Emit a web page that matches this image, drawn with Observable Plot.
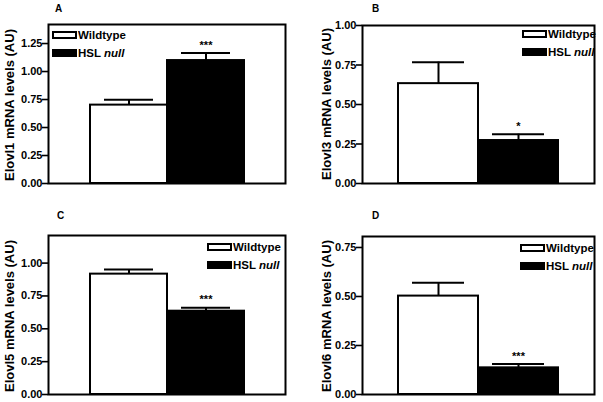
<!DOCTYPE html>
<html>
<head>
<meta charset="utf-8">
<script src="https://cdn.jsdelivr.net/npm/d3@7"></script>
<script src="https://cdn.jsdelivr.net/npm/@observablehq/plot@0.6"></script>
<style>
  html, body { margin: 0; padding: 0; background: #fff; }
  #root { position: relative; width: 603px; height: 402px; background: #fff; font-family: "Liberation Sans", Arial, sans-serif; font-weight: bold; }
  .panel { position: absolute; }
  .letter { position: absolute; font-size: 10px; font-weight: bold; }
  .ytitle { position: absolute; white-space: nowrap; font-size: 13px; font-weight: bold; transform: translate(-50%, -50%) rotate(-90deg); }
  .legend { position: absolute; display: flex; flex-direction: column; gap: 10px; font-size: 11.5px; font-weight: bold; }
  .legend .row { display: flex; align-items: center; height: 8px; }
  .legend .box { box-sizing: border-box; width: 25px; height: 8px; border: 2px solid #000; margin-right: 1px; }
</style>
</head>
<body>
<div id="root"></div>
<script>
// ---- data ----
const panelLetters = ["A", "B", "C", "D"];
const genes = ["Elovl1", "Elovl3", "Elovl5", "Elovl6"];
const groups = ["Wildtype", "HSL null"];
const wildtypeMean = [0.70, 0.632, 0.916, 0.502];
const wildtypeErr  = [0.047, 0.136, 0.036, 0.068];
const nullMean     = [1.098, 0.272, 0.634, 0.136];
const nullErr      = [0.067, 0.040, 0.027, 0.019];
const significance = ["***", "*", "***", "***"];
const yMax   = [1.42, 1.0, 1.21, 0.806];
const yTicks = [
  [0, 0.25, 0.5, 0.75, 1.0, 1.25],
  [0, 0.25, 0.5, 0.75, 1.0],
  [0, 0.25, 0.5, 0.75, 1.0],
  [0, 0.25, 0.5, 0.75]
];

// ---- layout ----
const layout = [
  {left: 0,   top: 0,   width: 300, height: 200, mL: 48, mR: 15, mT: 24, mB: 17, po: 0.52, title: [9, 105],    letter: [55, 3],   legend: [52, 31]},
  {left: 300, top: 0,   width: 303, height: 200, mL: 62, mR: 9,  mT: 25, mB: 17, po: 0.45, title: [325.5, 104], letter: [372, 3],  legend: [522, 30]},
  {left: 0,   top: 200, width: 300, height: 202, mL: 48, mR: 15, mT: 35, mB: 8,  po: 0.52, title: [9, 316],    letter: [57, 210], legend: [207, 243]},
  {left: 300, top: 200, width: 303, height: 202, mL: 62, mR: 9,  mT: 36, mB: 8,  po: 0.45, title: [325.5, 316], letter: [372, 210], legend: [520, 244]}
];

const root = document.getElementById("root");

panelLetters.forEach((letter, i) => {
  const L = layout[i];
  const data = [
    {group: groups[0], mean: wildtypeMean[i], err: wildtypeErr[i], sig: ""},
    {group: groups[1], mean: nullMean[i], err: nullErr[i], sig: significance[i]}
  ];
  const chart = Plot.plot({
    width: L.width,
    height: L.height,
    marginLeft: L.mL, marginRight: L.mR, marginTop: L.mT, marginBottom: L.mB,
    style: {fontFamily: "'Liberation Sans', Arial, sans-serif", fontWeight: "bold", fontSize: "11px", background: "transparent", color: "#000"},
    x: {type: "band", domain: groups, paddingInner: 0, paddingOuter: L.po, axis: null},
    y: {domain: [0, yMax[i]]},
    color: {domain: groups, range: ["#ffffff", "#000000"]},
    marks: [
      Plot.barY(data, {x: "group", y: "mean", fill: "group", stroke: "#000", strokeWidth: 2}),
      Plot.ruleX(data, {x: "group", y1: "mean", y2: d => d.mean + d.err, stroke: "#000", strokeWidth: 2}),
      Plot.tickY(data, {x: "group", y: d => d.mean + d.err, stroke: "#000", strokeWidth: 2, insetLeft: 14, insetRight: 14}),
      Plot.text(data.filter(d => d.sig), {x: "group", y: d => d.mean + d.err, text: "sig", dy: -8, fontSize: 11, fontWeight: "bold", fill: "#000"}),
      Plot.axisY({
        ticks: yTicks[i], tickFormat: d3.format(".2f"), tickSize: 6, tickPadding: 0,
        strokeWidth: 1.6, fontSize: 11, label: null
      }),
      Plot.frame({stroke: "#000", strokeWidth: 2})
    ]
  });
  const wrap = document.createElement("div");
  wrap.className = "panel";
  wrap.style.left = L.left + "px";
  wrap.style.top = L.top + "px";
  wrap.appendChild(chart);
  root.appendChild(wrap);

  const tt = document.createElement("div");
  tt.className = "ytitle";
  tt.style.left = L.title[0] + "px";
  tt.style.top = L.title[1] + "px";
  tt.textContent = `${genes[i]} mRNA levels (AU)`;
  root.appendChild(tt);

  const lt = document.createElement("div");
  lt.className = "letter";
  lt.style.left = L.letter[0] + "px";
  lt.style.top = L.letter[1] + "px";
  lt.textContent = letter;
  root.appendChild(lt);

  const lg = document.createElement("div");
  lg.className = "legend";
  lg.style.left = L.legend[0] + "px";
  lg.style.top = L.legend[1] + "px";
  lg.innerHTML =
    `<div class="row"><span class="box" style="background:#fff"></span><span>Wildtype</span></div>` +
    `<div class="row"><span class="box" style="background:#000"></span><span>HSL <i>null</i></span></div>`;
  root.appendChild(lg);
});
</script>
</body>
</html>
